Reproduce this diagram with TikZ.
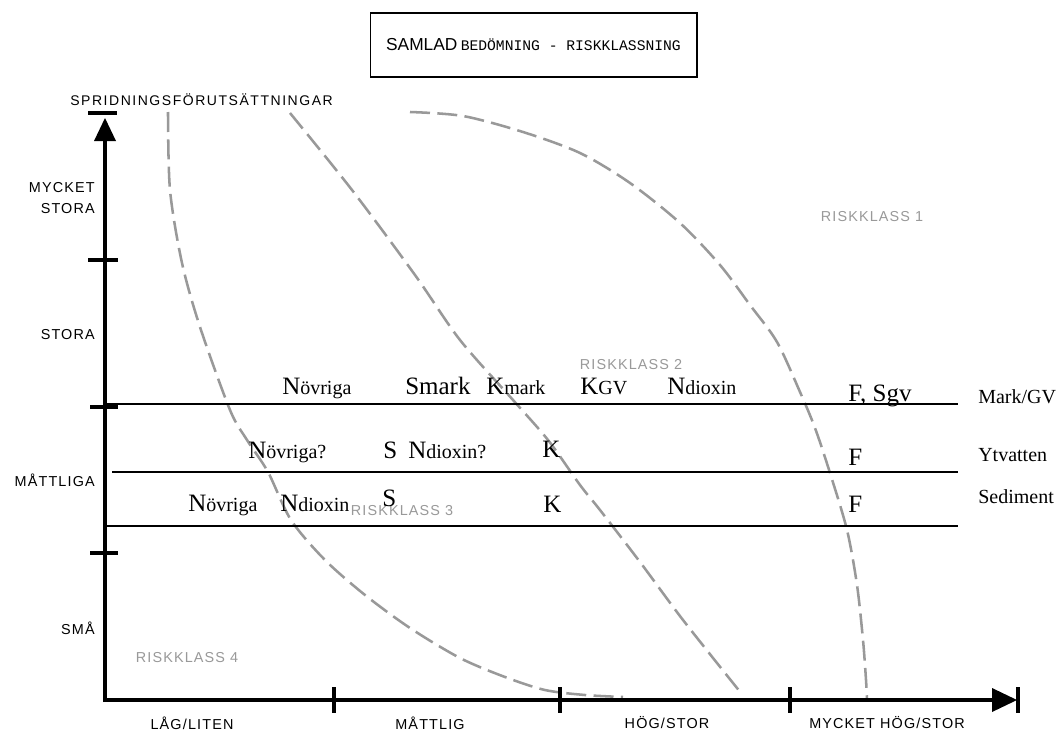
\documentclass[tikz,border=0pt]{standalone}
\usepackage{fontspec}
\setmainfont{Liberation Serif}
\newfontfamily\arialf{Liberation Sans}
\newfontfamily\arialsp[LetterSpace=8]{Liberation Sans}
\newfontfamily\arialwide[LetterSpace=11]{Liberation Sans}
\newfontfamily\courierf{Liberation Mono}
\newcommand\bigtx{\fontsize{18.75}{20}\selectfont}
\newcommand\smtx{\fontsize{15}{17}\selectfont}
\definecolor{zonegray}{RGB}{153,153,153}
\begin{document}
\begin{tikzpicture}[x=0.75pt,y=-0.75pt,
  axisline/.style={line width=3pt},
  tickline/.style={line width=3pt},
  rowline/.style={line width=1.2pt},
  zone/.style={draw=zonegray,line width=1.9pt,dash pattern=on 15pt off 5.5pt},
  lab/.style={font=\arialsp\fontsize{10.8}{16}\selectfont,inner sep=0pt},
  risk/.style={lab,text=zonegray},
  ser/.style={inner sep=0pt,anchor=base west},
  side/.style={ser,font=\smtx}]
\useasboundingbox[fill=white] (0,0) rectangle (1062,735);

% title
\node[draw,line width=1pt,minimum width=245pt,minimum height=48pt,inner sep=0pt] (title) at (533.5,45)
  {{\arialf\fontsize{13}{16}\selectfont SAMLAD} {\courierf\fontsize{11}{13}\selectfont BEDÖMNING - RISKKLASSNING}};

% zone boundaries
\draw[zone] plot[smooth,tension=0.5] coordinates {(168,112) (170,190) (182,263) (200,327) (230,410) (247,440) (268,472) (291,520) (325,560) (365,595) (410,628) (460,658) (505,677) (545,690) (585,695) (623,697)};
\draw[zone] plot[smooth,tension=0.5] coordinates {(290,113) (352,190) (415,275) (460,340) (513,400) (548,440) (580,485) (600,510) (640,562) (683,620) (741,693)};
\draw[zone] plot[smooth,tension=0.5] coordinates {(410,112) (463,116) (523,132) (580,153) (630,183) (680,223) (720,265) (750,305) (777,342) (800,392) (815,428) (830,473) (847,530) (857,585) (863,640) (866,680) (867,700)};

% axes
\coordinate (O) at (105,700);
\coordinate (ybase) at (105,140);
\coordinate (xbase) at (993,700);
\draw[axisline] (105,702) -- (ybase);
\fill (94,141) -- (116,141) -- (105,118) -- cycle;
\draw[line width=2.4pt] (88,113) -- (117,113);
\draw[axisline] (103,700) -- (xbase);
\fill (992,688) -- (992,712) -- (1017,700) -- cycle;
\draw[tickline] (1018,687) -- (1018,713);
\foreach \xx in {334,560,790} \draw[tickline] (\xx,687) -- (\xx,713);
\draw[tickline] (88,260) -- (118,260);
\draw[tickline] (90,407) -- (118,407);
\draw[tickline] (90,553) -- (118,553);

% row lines
\draw[rowline] (107,404) -- (958,404);
\draw[rowline] (112,472) -- (958,472);
\draw[rowline] (105,526) -- (958,526);

% axis labels
\node[lab,font=\arialwide\fontsize{10.5}{16}\selectfont,anchor=west] (yttl) at (70,100) {SPRIDNINGSFÖRUTSÄTTNINGAR};
\node[lab,anchor=east,align=right] (y4) at (95,198) {MYCKET\\STORA};
\node[lab,anchor=east] (y3) at (95,335) {STORA};
\node[lab,anchor=east] (y2) at (95,480) {MÅTTLIGA};
\node[lab,anchor=east] (y1) at (95,628) {SMÅ};
\node[lab] (x1) at (192,723) {LÅG/LITEN};
\node[lab] (x2) at (430,723) {MÅTTLIG};
\node[lab] (x3) at (667,723) {HÖG/STOR};
\node[lab] (x4) at (887,723) {MYCKET HÖG/STOR};

% risk classes
\node[risk] (r1) at (872,217) {RISKKLASS 1};
\node[risk] (r2) at (631,365) {RISKKLASS 2};
\node[risk] (r3) at (402,511) {RISKKLASS 3};
\node[risk] (r4) at (187,658) {RISKKLASS 4};

% row 1 : Mark/GV
\node[ser] (a1) at (282,394) {\bigtx N\smtx övriga};
\node[ser] (a2) at (405,394) {\bigtx Smark};
\node[ser] (a3) at (486,394) {\bigtx K\smtx mark};
\node[ser] (a4) at (580,394) {\bigtx K\smtx GV};
\node[ser] (a5) at (667,394) {\bigtx N\smtx dioxin};
\node[ser] (a6) at (848,401) {\bigtx F, Sgv};
\node[side] (a7) at (978,403) {Mark/GV};

% row 2 : Ytvatten
\node[ser] (b1) at (248,458) {\bigtx N\smtx övriga?};
\node[ser] (b2) at (383,458) {\bigtx S};
\node[ser] (b3) at (408,458) {\bigtx N\smtx dioxin?};
\node[ser] (b4) at (542,457) {\bigtx K};
\node[ser] (b5) at (848,465) {\bigtx F};
\node[side] (b6) at (978,461) {Ytvatten};

% row 3 : Sediment
\node[ser] (c1) at (188,511) {\bigtx N\smtx övriga};
\node[ser] (c2) at (280,511) {\bigtx N\smtx dioxin};
\node[ser] (c3) at (382,506) {\bigtx S};
\node[ser] (c4) at (543,512) {\bigtx K};
\node[ser] (c5) at (848,512) {\bigtx F};
\node[side] (c6) at (978,503) {Sediment};
\end{tikzpicture}
\end{document}
